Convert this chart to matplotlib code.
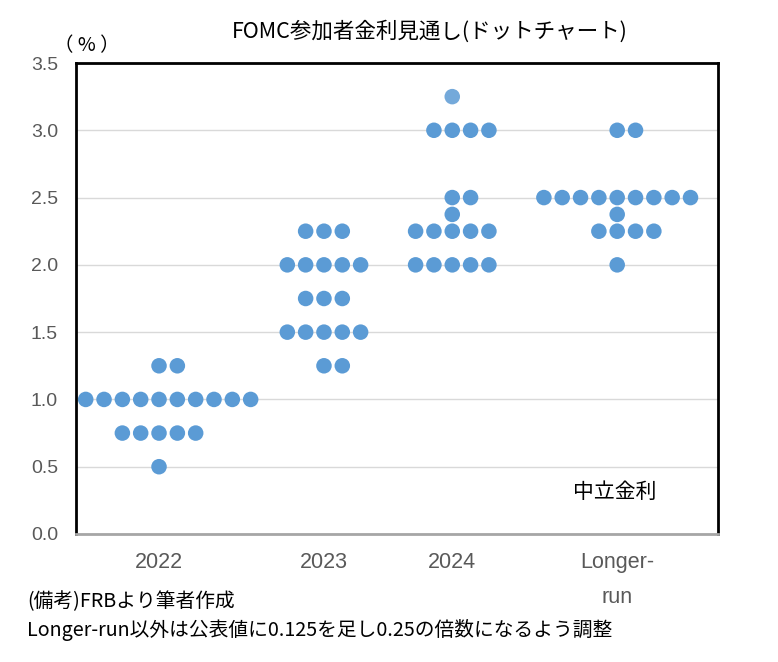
import matplotlib
matplotlib.use("Agg")
import matplotlib.pyplot as plt
from collections import Counter

plt.rcParams['font.family'] = ['Noto Sans CJK JP', 'DejaVu Sans']

# ---- data ----
categories = ["2022", "2023", "2024", "Longer-\nrun"]
rates_2022 = [1.25]*2 + [1.0]*10 + [0.75]*5 + [0.5]*1
rates_2023 = [2.25]*3 + [2.0]*5 + [1.75]*3 + [1.5]*5 + [1.25]*2
rates_2024 = [3.25]*1 + [3.0]*4 + [2.5]*2 + [2.375]*1 + [2.25]*5 + [2.0]*5
rates_longer = [3.0]*2 + [2.5]*9 + [2.375]*1 + [2.25]*4 + [2.0]*1
series = [rates_2022, rates_2023, rates_2024, rates_longer]
y_ticks = [0.0, 0.5, 1.0, 1.5, 2.0, 2.5, 3.0, 3.5]
highlight_value = (2, 3.25)   # category index, value drawn lighter

# ---- layout (slot grid) ----
centers = [4, 13, 20, 29]
# row start offset (relative to center) per category/value
row_start = {
    0: {1.25: 0, 1.0: -4, 0.75: -2, 0.5: 0},
    1: {2.25: -1, 2.0: -2, 1.75: -1, 1.5: -2, 1.25: 0},
    2: {3.25: 0, 3.0: -1, 2.5: 0, 2.375: 0, 2.25: -2, 2.0: -2},
    3: {3.0: 0, 2.5: -4, 2.375: 0, 2.25: -1, 2.0: 0},
}

fig = plt.figure(figsize=(7.78, 6.62), dpi=100)
ax = fig.add_axes([76/778, 1-534/662, (718-76)/778, (534-63)/662])

blue = "#5B9BD5"
light = "#74A9DA"
for ci, rates in enumerate(series):
    cnt = Counter(rates)
    for val, n in cnt.items():
        start = centers[ci] + row_start[ci][val]
        xs = [start + k for k in range(n)]
        col = light if (ci, val) == highlight_value else blue
        ax.scatter(xs, [val]*n, s=125, color=col, edgecolors='none', zorder=3)

ax.set_xlim(-0.53, 34.5)
ax.set_ylim(0, 3.5)
ax.set_yticks(y_ticks)
ax.set_yticklabels([f"{v:.1f}" for v in y_ticks], color="#595959", fontsize=14,
                   family=['Liberation Sans', 'DejaVu Sans'])
ax.tick_params(axis='y', length=0, pad=13)
ax.set_xticks(centers)
ax.set_xticklabels(categories, color="#595959", fontsize=15.5, linespacing=1.9,
                   family=['Liberation Sans', 'DejaVu Sans'])
ax.tick_params(axis='x', length=0, pad=13)

ax.grid(axis='y', color="#D9D9D9", linewidth=1)
ax.set_axisbelow(True)
for s in ['left', 'top', 'right']:
    ax.spines[s].set_color('black')
    ax.spines[s].set_linewidth(2)
ax.spines['bottom'].set_color('#A6A6A6')
ax.spines['bottom'].set_linewidth(2)

fig.text(430/778, 1-32/662, "FOMC参加者金利見通し(ドットチャート)", ha='center', va='center',
         fontsize=15.5, color='black')
fig.text(87/778, 1-46/662, "（ % ）", ha='center', va='center', fontsize=14, color='black')
fig.text(615/778, 1-492/662, "中立金利", ha='center', va='center', fontsize=15, color='black')

fig.text(27/778, 1-602/662, "(備考)FRBより筆者作成", ha='left', va='center', fontsize=14.2)
fig.text(27/778, 1-630/662, "Longer-run以外は公表値に0.125を足し0.25の倍数になるよう調整",
         ha='left', va='center', fontsize=14.2)

fig.savefig("out.png", dpi=100)
